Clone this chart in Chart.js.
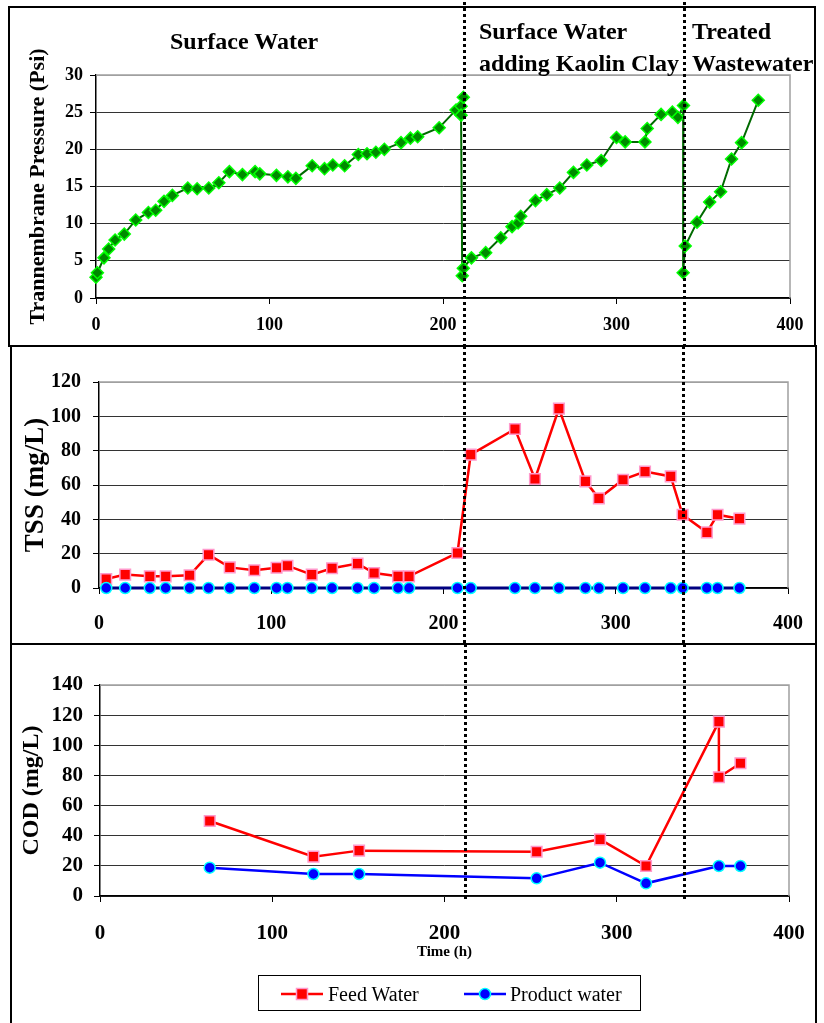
<!DOCTYPE html>
<html>
<head>
<meta charset="utf-8">
<script src="https://cdn.jsdelivr.net/npm/chart.js@4.4.1/dist/chart.umd.min.js"></script>
<style>
  body { margin: 0; background: #fff; width: 824px; height: 1023px; overflow: hidden; position: relative;
         font-family: "Liberation Serif", "Times New Roman", serif; }
  canvas { position: absolute; left: 0; }
  .frame { position: absolute; border: 2px solid #000; box-sizing: border-box; pointer-events: none; }
  .ttl { position: absolute; font-weight: bold; font-size: 24px; line-height: 32px; white-space: nowrap; color: #000; }
  #legend { position: absolute; left: 258px; top: 975px; width: 383px; height: 36px; border: 1px solid #000;
            box-sizing: border-box; background: #fff; }
  #legend span { position: absolute; top: 0; line-height: 36px; font-size: 20px; color: #000; white-space: nowrap; }
  #legend svg { position: absolute; top: 8px; }
</style>
</head>
<body>
<canvas id="tmpChart" width="824" height="346" style="top:0"></canvas>
<canvas id="tssChart" width="824" height="298" style="top:346px"></canvas>
<canvas id="codChart" width="824" height="379" style="top:644px"></canvas>

<div class="frame" style="left:8px;top:6px;width:808px;height:341px"></div>
<div class="frame" style="left:10px;top:345px;width:807px;height:300px"></div>
<div class="frame" style="left:10px;top:643px;width:807px;height:400px"></div>

<div class="ttl" style="left:170px;top:25px">Surface Water</div>
<div class="ttl" style="left:479px;top:15px">Surface Water<br>adding Kaolin Clay</div>
<div class="ttl" style="left:692px;top:15px">Treated<br>Wastewater</div>

<div id="legend"></div>

<script>
const SERIF = "'Liberation Serif', 'Times New Roman', serif";

// phase boundaries (h)
const phaseBreaks = [212, 339];

// transmembrane pressure
const tmpTime = [0, 0.8, 4.6, 7.3, 11, 16.3, 22.9, 30.2, 34.4, 39.2, 44, 52.9, 58.3, 65, 70.8, 76.9, 84.4, 91.7, 94.4, 104,
  110.6, 115.2, 124.6, 131.7, 136.5, 143.3, 151.2, 156.2, 161.3, 166.2, 175.8, 181.2, 185.4, 197.8, 207.5, 210.4, 211.7, 210.4, 211.1, 211.7,
  216.4, 224.6, 233.3, 239.8, 243.3, 244.8, 253.3, 259.8, 267.3, 275.2, 282.9, 291.2, 300, 305, 316.4, 317.7, 325.7, 332.2, 335.4, 338.6,
  338.4, 339.6, 346.4, 353.7, 360, 366.3, 372.1, 381.7];
const tmpPsi = [2.8, 3.4, 5.4, 6.6, 7.8, 8.6, 10.5, 11.5, 11.8, 13.0, 13.8, 14.8, 14.7, 14.8, 15.5, 17.0, 16.6, 17.0, 16.7, 16.5,
  16.3, 16.1, 17.8, 17.4, 17.9, 17.8, 19.3, 19.4, 19.6, 20.0, 20.9, 21.5, 21.7, 22.9, 25.3, 25.8, 27.0, 24.6, 3.0, 4.0,
  5.4, 6.1, 8.1, 9.6, 10.1, 11.0, 13.1, 13.9, 14.8, 16.9, 17.9, 18.5, 21.6, 21.0, 21.0, 22.8, 24.7, 25.0, 24.3, 25.9,
  3.4, 7.0, 10.2, 12.9, 14.3, 18.7, 20.9, 26.6];

// TSS
const tssTime = [4.2, 15.2, 29.5, 38.7, 52.6, 63.6, 75.9, 90.2, 103.1, 109.4, 123.5, 135.3, 150.1, 159.7, 173.6, 180.0,
  208.1, 215.8, 241.5, 253.1, 267, 282.4, 290.2, 304.2, 317, 331.9, 338.8, 352.9, 359.1, 371.8];
const tssFeed = [5.2, 7.8, 6.8, 6.8, 7.4, 19.4, 12.0, 10.3, 11.8, 13.0, 7.8, 11.5, 14.2, 8.7, 6.8, 6.8,
  20.4, 77.7, 92.6, 63.5, 104.5, 62.1, 52.2, 63.1, 67.8, 65.0, 42.7, 32.4, 42.7, 40.4];
const tssProduct = [0, 0, 0, 0, 0, 0, 0, 0, 0, 0, 0, 0, 0, 0, 0, 0,
  0, 0, 0, 0, 0, 0, 0, 0, 0, 0, 0, 0, 0, 0];

// COD
const codFeedTime = [63.7, 123.9, 150.4, 253.5, 290.3, 317, 359.3, 359.3, 371.8];
const codFeed = [49.8, 26.1, 30.1, 29.4, 37.6, 19.9, 115.7, 78.8, 88.1];
const codProductTime = [63.7, 123.9, 150.4, 253.5, 290.3, 317, 359.3, 371.8];
const codProduct = [18.8, 14.6, 14.6, 11.7, 22.1, 8.4, 19.9, 19.9];

const seriesNames = ["Feed Water", "Product water"];

const pts = (xs, ys) => xs.map((x, i) => ({ x: x, y: ys[i] }));

const feedStyle = {
  borderColor: "#ff0000", borderWidth: 2.5, pointStyle: "rect", pointRadius: 7.5,
  pointBackgroundColor: "#ff0000", pointBorderColor: "#ff99cc", pointBorderWidth: 1.5,
};
const productStyle = {
  borderColor: "#0000ff", borderWidth: 2.5, pointStyle: "circle", pointRadius: 5.5,
  pointBackgroundColor: "#0000ff", pointBorderColor: "#00ffff", pointBorderWidth: 1.5,
};

// dotted phase separators
const phaseLines = {
  id: "phaseLines",
  afterDraw(chart, args, opts) {
    const { ctx } = chart;
    const x = chart.scales.x;
    ctx.save();
    ctx.strokeStyle = "#000";
    ctx.lineWidth = 3;
    ctx.setLineDash([3, 3]);
    phaseBreaks.forEach((v) => {
      const px = Math.round(x.getPixelForValue(v)) + 0.5;
      ctx.beginPath();
      ctx.moveTo(px, opts.top || 0);
      ctx.lineTo(px, opts.bottom || chart.height);
      ctx.stroke();
    });
    ctx.restore();
  },
};

// grey plot-area border on top and right (Excel style)
const plotFrame = {
  id: "plotFrame",
  beforeDatasetsDraw(chart) {
    const { ctx, chartArea: a } = chart;
    ctx.save();
    ctx.strokeStyle = "#a0a0a0";
    ctx.lineWidth = 1.5;
    ctx.beginPath();
    ctx.moveTo(a.left, a.top);
    ctx.lineTo(a.right, a.top);
    ctx.lineTo(a.right, a.bottom);
    ctx.stroke();
    ctx.restore();
  },
};

function makeScales(c) {
  return {
    x: {
      type: "linear", min: 0, max: 400,
      ticks: { stepSize: 100, padding: c.xPad, color: "#000", maxRotation: 0,
               font: { family: SERIF, size: c.tickSize, weight: "bold" } },
      grid: { drawOnChartArea: false, tickLength: 6, tickColor: "#000" },
      border: { color: "#000", width: 1.5 },
      title: c.xTitle
        ? { display: true, text: c.xTitle, color: "#000", padding: 0,
            font: { family: SERIF, size: 15, weight: "bold" } }
        : { display: false },
      afterFit: (s) => { s.height = c.xHeight; },
    },
    y: {
      min: 0, max: c.yMax,
      ticks: { stepSize: c.yStep, padding: c.yPad, color: "#000",
               font: { family: SERIF, size: c.tickSize, weight: "bold" } },
      grid: { color: (ctx) => (ctx.tick && ctx.tick.value === c.yMax ? "#a0a0a0" : "#333"),
              lineWidth: 1, tickLength: 6, tickColor: "#000" },
      border: { color: "#000", width: 1.5 },
      title: { display: true, text: c.yTitle, color: "#000", padding: { top: c.yTitlePad, bottom: 0 },
               font: { family: SERIF, size: c.yTitleSize, weight: "bold" } },
      afterFit: (s) => { s.width = c.yWidth; },
    },
  };
}

function baseOptions(c) {
  return {
    responsive: false,
    animation: false,
    layout: { padding: c.padding },
    plugins: { legend: { display: false }, tooltip: { enabled: false }, phaseLines: c.lines },
    scales: makeScales(c),
  };
}

new Chart(document.getElementById("tmpChart"), {
  type: "line",
  data: {
    datasets: [{
      data: pts(tmpTime, tmpPsi),
      borderColor: "#006a00", borderWidth: 2, tension: 0, clip: false,
      pointStyle: "rectRot", pointRadius: 6,
      pointBackgroundColor: "#008a00", pointBorderColor: "#00ff00", pointBorderWidth: 1.5,
    }],
  },
  options: baseOptions({
    padding: { left: 0, right: 34, top: 75, bottom: 0 },
    xHeight: 48, xPad: 11, yWidth: 96, yPad: 7, tickSize: 18,
    yMax: 30, yStep: 5, yTitle: "Trannembrane Pressure (Psi)", yTitleSize: 22, yTitlePad: 25,
    lines: { top: 2 },
  }),
  plugins: [plotFrame, phaseLines],
});

new Chart(document.getElementById("tssChart"), {
  type: "line",
  data: {
    datasets: [
      { label: seriesNames[0], data: pts(tssTime, tssFeed), ...feedStyle, tension: 0, clip: false, order: 2 },
      { label: seriesNames[1], data: pts(tssTime, tssProduct), ...productStyle,
        borderColor: "#000080", borderWidth: 3, tension: 0, clip: false, order: 1 },
    ],
  },
  options: baseOptions({
    padding: { left: 0, right: 36, top: 36, bottom: 0 },
    xHeight: 56, xPad: 18, yWidth: 99, yPad: 12, tickSize: 20,
    yMax: 120, yStep: 20, yTitle: "TSS (mg/L)", yTitleSize: 27, yTitlePad: 20,
    lines: {},
  }),
  plugins: [plotFrame, phaseLines],
});

new Chart(document.getElementById("codChart"), {
  type: "line",
  data: {
    datasets: [
      { label: seriesNames[0], data: pts(codFeedTime, codFeed), ...feedStyle, tension: 0, clip: false, order: 2 },
      { label: seriesNames[1], data: pts(codProductTime, codProduct), ...productStyle, tension: 0, clip: false, order: 1 },
    ],
  },
  options: baseOptions({
    padding: { left: 0, right: 35, top: 41, bottom: 62 },
    xHeight: 65, xPad: 19, yWidth: 100, yPad: 11, tickSize: 21, xTitle: "Time (h)",
    yMax: 140, yStep: 20, yTitle: "COD (mg/L)", yTitleSize: 24, yTitlePad: 17,
    lines: { top: 0, bottom: 256 },
  }),
  plugins: [plotFrame, phaseLines],
});

// legend: line + marker symbols like the original
function symbol(style, shape) {
  const m = shape === "rect"
    ? `<rect x="15.5" y="4.5" width="11" height="11" fill="${style.pointBackgroundColor}" stroke="${style.pointBorderColor}" stroke-width="1.5"/>`
    : `<circle cx="21" cy="10" r="5.5" fill="${style.pointBackgroundColor}" stroke="${style.pointBorderColor}" stroke-width="1.5"/>`;
  return `<svg width="42" height="20"><line x1="0" y1="10" x2="42" y2="10" stroke="${style.borderColor}" stroke-width="2.5"/>${m}</svg>`;
}
document.getElementById("legend").innerHTML =
  `<svg style="left:22px" width="42" height="20"></svg>` +
  `<span style="left:69px">${seriesNames[0]}</span>` +
  `<span style="left:251px">${seriesNames[1]}</span>`;
const lg = document.getElementById("legend");
lg.children[0].outerHTML = symbol(feedStyle, "rect").replace("<svg", '<svg style="left:22px"');
lg.insertAdjacentHTML("beforeend", symbol(productStyle, "circle").replace("<svg", '<svg style="left:205px"'));
</script>
</body>
</html>
